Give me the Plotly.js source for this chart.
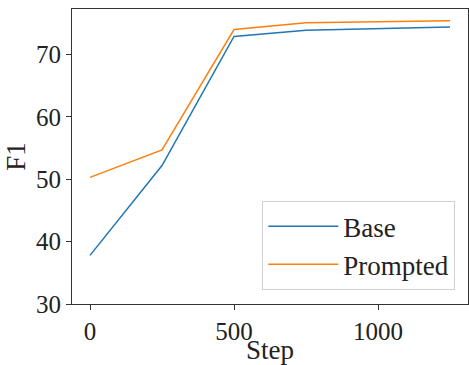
<!DOCTYPE html>
<html>
<head>
<meta charset="utf-8">
<script src="https://cdn.plot.ly/plotly-3.0.1.min.js"></script>
<style>html,body{margin:0;padding:0;background:#fff;}#chart{width:469px;height:365px;}</style>
</head>
<body>
<div id="chart"></div>
<script>
const steps = [0, 250, 500, 750, 1250];
const baseF1 = [37.8, 52.2, 72.9, 73.9, 74.4];
const promptedF1 = [50.3, 54.7, 74.0, 75.1, 75.4];
const seriesNames = ['Base', 'Prompted'];
const xTicks = [0, 500, 1000];
const yTicks = [30, 40, 50, 60, 70];

const font = 'Liberation Serif, Times New Roman, serif';
const traces = [
  {x: steps, y: baseF1, name: seriesNames[0], mode: 'lines', line: {color: '#1f77b4', width: 1.5}},
  {x: steps, y: promptedF1, name: seriesNames[1], mode: 'lines', line: {color: '#ff7f0e', width: 1.5}}
];
const axisCommon = {
  showgrid: false, zeroline: false, showline: true, mirror: true,
  linecolor: '#333', linewidth: 1, ticks: 'outside', ticklen: 5, tickwidth: 1, tickcolor: '#333',
  tickfont: {family: font, size: 25, color: '#222'}
};
const layout = {
  width: 469, height: 365,
  margin: {l: 72, r: 1, t: 9, b: 61},
  paper_bgcolor: '#fff', plot_bgcolor: '#fff',
  font: {family: font, color: '#222'},
  xaxis: Object.assign({}, axisCommon, {
    range: [-62.5, 1312.5], tickvals: xTicks, ticktext: xTicks.map(String),
    title: {text: 'Step', font: {family: font, size: 27, color: '#222'}, standoff: 4}
  }),
  yaxis: Object.assign({}, axisCommon, {
    range: [30, 77.3], tickvals: yTicks, ticktext: yTicks.map(String),
    title: {text: 'F1', font: {family: font, size: 27, color: '#222'}, standoff: 2}
  }),
  showlegend: true,
  legend: {
    x: 0.968, y: 0.047, xanchor: 'right', yanchor: 'bottom',
    bgcolor: 'rgba(255,255,255,0.8)', bordercolor: '#d0d0d0', borderwidth: 1,
    font: {family: font, size: 27, color: '#222'},
    itemwidth: 70, tracegroupgap: 0
  }
};
Plotly.newPlot('chart', traces, layout, {staticPlot: true, displayModeBar: false});
</script>
</body>
</html>
